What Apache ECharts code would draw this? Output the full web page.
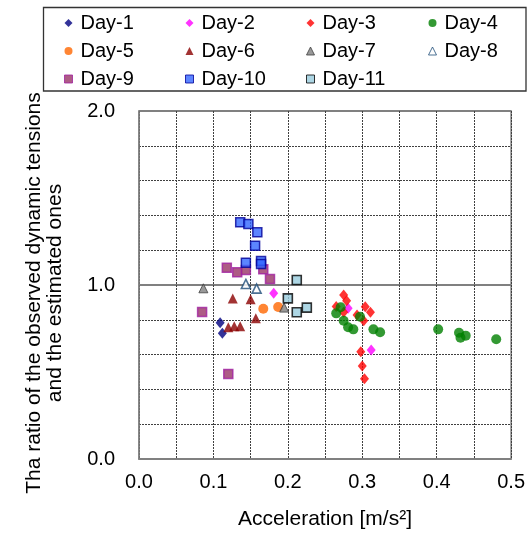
<!DOCTYPE html>
<html>
<head>
<meta charset="utf-8">
<script src="https://cdn.jsdelivr.net/npm/echarts@6/dist/echarts.min.js"></script>
<style>html,body{margin:0;padding:0;background:#fff}#c{width:528px;height:536px}</style>
</head>
<body>
<div id="c"></div>
<script>
var seriesNames = ['Day-1','Day-2','Day-3','Day-4','Day-5','Day-6','Day-7','Day-8','Day-9','Day-10','Day-11'];
var day1 = [[0.109,0.783],[0.112,0.722]];
var day2 = [[0.181,0.952],[0.281,0.866],[0.312,0.626]];
var day3 = [[0.275,0.943],[0.279,0.910],[0.265,0.876],[0.275,0.843],[0.304,0.875],[0.311,0.843],[0.293,0.828],[0.302,0.795],[0.298,0.617],[0.300,0.534],[0.303,0.461]];
var day4 = [[0.271,0.872],[0.265,0.837],[0.297,0.818],[0.275,0.795],[0.281,0.757],[0.288,0.745],[0.315,0.745],[0.324,0.728],[0.402,0.745],[0.430,0.726],[0.432,0.697],[0.439,0.709],[0.480,0.688]];
var day5 = [[0.167,0.864],[0.187,0.874]];
var day6 = [[0.126,0.923],[0.150,0.918],[0.157,0.809],[0.120,0.757],[0.128,0.763],[0.136,0.763]];
var day7 = [[0.0865,0.981],[0.195,0.870]];
var day8 = [[0.1436,1.006],[0.158,0.979]];
var day9 = [[0.118,1.099],[0.132,1.073],[0.1436,1.086],[0.167,1.090],[0.176,1.034],[0.0848,0.845],[0.120,0.489]];
var day10 = [[0.136,1.360],[0.147,1.351],[0.159,1.303],[0.156,1.226],[0.1436,1.128],[0.164,1.138],[0.164,1.121]];
var day11 = [[0.212,1.029],[0.200,0.923],[0.212,0.843],[0.2255,0.870]];
var allData = [day1,day2,day3,day4,day5,day6,day7,day8,day9,day10,day11];

var styles = [
  {symbol:'diamond', size:[9,11], color:'#000080', border:null},
  {symbol:'diamond', size:[9,11], color:'#FF00FF', border:null},
  {symbol:'diamond', size:[9,11], color:'#FF0000', border:null},
  {symbol:'circle', size:10, color:'#008000', border:null},
  {symbol:'circle', size:10, color:'#FF6600', border:null},
  {symbol:'triangle', size:10, color:'#8B0000', border:null},
  {symbol:'triangle', size:9, color:'#808080', border:'#404040', bw:1},
  {symbol:'triangle', size:9, color:'#FFFFFF', border:'#1F4E79', bw:1.6},
  {symbol:'rect', size:9, color:'#993366', border:'#A020A0', bw:1.5},
  {symbol:'rect', size:9, color:'#3366FF', border:'#000099', bw:1.5},
  {symbol:'rect', size:9, color:'#99CCDD', border:'#000000', bw:1.6}
];

var FONT = "'Liberation Sans', Arial, sans-serif";
var series = seriesNames.map(function(n,i){
  var s = styles[i];
  var it = {color:s.color};
  if (s.border){ it.borderColor = s.border; it.borderWidth = s.bw; }
  return {name:n, type:'scatter', data:allData[i], symbol:s.symbol, symbolSize:s.size, itemStyle:it, z:2+i*0.01};
});

function legendCol(left, names){
  return {
    orient:'vertical', left:left, top:8, itemWidth:8, itemHeight:8, itemGap:8,
    selectedMode:false, data:names,
    itemStyle:{borderWidth:1},
    textStyle:{fontFamily:FONT, fontSize:20, color:'#000', padding:[0,0,0,3]}
  };
}

var chart = echarts.init(document.getElementById('c'), null, {renderer:'canvas'});
chart.setOption({
  animation:false,
  backgroundColor:'#fff',
  legend:[
    legendCol(59, ['Day-1','Day-5','Day-9']),
    legendCol(180, ['Day-2','Day-6','Day-10']),
    legendCol(301, ['Day-3','Day-7','Day-11']),
    legendCol(423, ['Day-4','Day-8'])
  ],
  graphic:[{type:'rect', shape:{x:43.5, y:7.5, width:482.5, height:83.5}, style:{fill:null, stroke:'#333', lineWidth:1.3}, z:-1}],
  grid:{left:139, top:111, width:374, height:348, show:true, borderColor:'#808080', borderWidth:1.5, backgroundColor:'#fff'},
  xAxis:{
    type:'value', min:0, max:0.5, interval:0.1,
    name:'Acceleration [m/s²]', nameLocation:'middle', nameGap:50,
    nameTextStyle:{fontFamily:FONT, fontSize:21, color:'#000'},
    axisLine:{show:true, lineStyle:{color:'#808080', width:1.5}},
    axisTick:{show:false},
    axisLabel:{fontFamily:FONT, fontSize:20, color:'#000', margin:13, formatter:function(v){return v.toFixed(1);}},
    splitLine:{show:true, lineStyle:{color:'#404040', width:1, type:[2,1]}},
    minorTick:{show:true, splitNumber:2, length:0},
    minorSplitLine:{show:true, lineStyle:{color:'#404040', width:1, type:[2,1]}}
  },
  yAxis:{
    type:'value', min:0, max:2, interval:1,
    name:'Tha ratio of the observed dynamic tensions\nand the estimated ones', nameLocation:'middle', nameGap:73, nameRotate:90,
    nameTextStyle:{fontFamily:FONT, fontSize:21, color:'#000', lineHeight:21, align:'center', padding:[0,16,0,0]},
    axisLine:{show:true, lineStyle:{color:'#808080', width:1.5}},
    axisTick:{show:false},
    axisLabel:{fontFamily:FONT, fontSize:20, color:'#000', margin:24, formatter:function(v){return v.toFixed(1);}},
    splitLine:{show:true, lineStyle:{color:'#808080', width:2, type:'solid'}},
    minorTick:{show:true, splitNumber:5, length:0},
    minorSplitLine:{show:true, lineStyle:{color:'#404040', width:1, type:[2,1]}}
  },
  series:series
});
</script>
</body>
</html>
